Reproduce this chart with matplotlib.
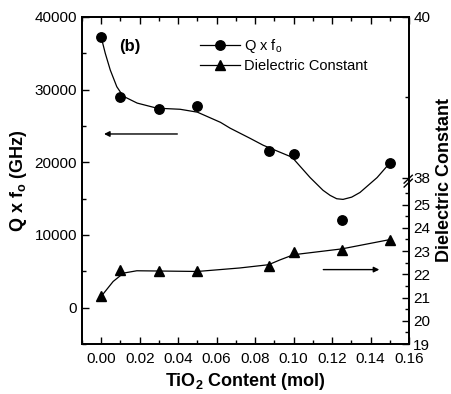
import numpy as np
import matplotlib
matplotlib.use("Agg")
import matplotlib.pyplot as plt
from matplotlib.ticker import MultipleLocator, FixedLocator
from matplotlib.lines import Line2D

plt.rcParams['font.family'] = ['Liberation Sans', 'DejaVu Sans']
plt.rcParams['mathtext.fontset'] = 'custom'
plt.rcParams['mathtext.rm'] = 'Liberation Sans'
plt.rcParams['mathtext.bf'] = 'Liberation Sans:bold'

# ---- data ----
tio2 = [0.00, 0.01, 0.03, 0.05, 0.087, 0.10, 0.125, 0.15]
qf = [37300, 29000, 27300, 27700, 21500, 21100, 12100, 19900]
eps = [21.05, 22.19, 22.12, 22.12, 22.37, 22.96, 23.06, 23.49]

# fitted guide curves
qf_fit_x = [0.000, 0.0021, 0.0047, 0.0081, 0.0114, 0.0187, 0.029, 0.041, 0.050,
            0.062, 0.067, 0.0774, 0.0842, 0.0992, 0.1086, 0.1153, 0.119, 0.1224,
            0.1257, 0.1302, 0.1345, 0.1434, 0.150]
qf_fit_y = [37200, 35000, 32700, 30400, 29100, 28150, 27450, 27300, 26900,
            25500, 24700, 23300, 22350, 20700, 17900, 16150, 15450, 14990,
            14900, 15210, 15850, 17900, 19900]
eps_fit_x = [0.000, 0.0062, 0.0116, 0.0185, 0.050, 0.072, 0.087, 0.093, 0.100, 0.125, 0.150]
eps_fit_y = [21.05, 21.69, 22.05, 22.15, 22.12, 22.27, 22.41, 22.62, 22.84, 23.09, 23.49]

x_ticks = [0.00, 0.02, 0.04, 0.06, 0.08, 0.10, 0.12, 0.14, 0.16]
left_ticks = [0, 10000, 20000, 30000, 40000]
right_ticks = [19, 20, 21, 22, 23, 24, 25, 38, 40]

fig = plt.figure(figsize=(4.52, 3.94), dpi=100)
ax = fig.add_axes([0.1814, 0.1269, 0.7235, 0.8300])

ax.plot(qf_fit_x, qf_fit_y, color='black', lw=0.9, zorder=2)
ax.plot(tio2, qf, 'o', color='black', ms=6.8, zorder=3, label=r'Q x f$_\mathrm{o}$')

ax.set_xlim(-0.01, 0.16)
ax.set_ylim(-5000, 40000)
ax.set_xticks(x_ticks)
ax.set_xticklabels([f"{v:.2f}" for v in x_ticks])
ax.xaxis.set_minor_locator(MultipleLocator(0.01))
ax.set_yticks(left_ticks)
ax.yaxis.set_minor_locator(MultipleLocator(5000))
ax.tick_params(axis='both', which='both', direction='in', top=True, labelsize=11)
ax.tick_params(which='major', length=5, width=1)
ax.tick_params(which='minor', length=3, width=1)
ax.tick_params(axis='x', pad=6)
for s in ax.spines.values():
    s.set_linewidth(1.3)

ax.set_xlabel(r'TiO$_\mathbf{2}$ Content (mol)', fontsize=13, fontweight='bold', labelpad=3)
ax.set_ylabel(r'Q x f$_\mathbf{o}$ (GHz)', fontsize=13, fontweight='bold', labelpad=4)

# right axis with a broken scale
lo_top, gap_to = 25.9, 26.16
slope_hi = 80 / 23.17
def fwd(v):
    return np.interp(v, [-1000, lo_top, 38, 1000],
                     [-1000, lo_top, gap_to, gap_to + (1000 - 38) * slope_hi])
def inv(u):
    return np.interp(u, [-1000, lo_top, gap_to, gap_to + (1000 - 38) * slope_hi],
                     [-1000, lo_top, 38, 1000])

ax2 = ax.twinx()
ax2.set_yscale('function', functions=(fwd, inv))
ax2.plot(eps_fit_x, eps_fit_y, color='black', lw=0.9, zorder=2)
ax2.plot(tio2, eps, '^', color='black', ms=7.5, zorder=3, label='Dielectric Constant')
ax2.set_ylim(19, 40)
ax2.yaxis.set_major_locator(FixedLocator(right_ticks))
ax2.set_yticklabels([str(v) for v in right_ticks])
ax2.yaxis.set_minor_locator(FixedLocator([19.5, 20.5, 21.5, 22.5, 23.5, 24.5, 25.5, 39]))
ax2.tick_params(axis='y', which='both', direction='in', labelsize=11, pad=3)
ax2.tick_params(which='major', length=5, width=1)
ax2.tick_params(which='minor', length=3, width=1)
ax2.set_ylabel('Dielectric Constant', fontsize=13, fontweight='bold', labelpad=4)
for s in ax2.spines.values():
    s.set_linewidth(1.3)

# break marks on right spine
yb = 0.498
for dy in (-0.006, 0.006):
    ax2.plot([0.985, 1.01], [yb + dy - 0.012, yb + dy + 0.012], transform=ax2.transAxes,
             color='black', lw=1.0, clip_on=False, zorder=5)

# legend
h1, l1 = ax.get_legend_handles_labels()
h2, l2 = ax2.get_legend_handles_labels()
hq = Line2D([], [], color='black', lw=0.9, marker='o', ms=6.8)
he = Line2D([], [], color='black', lw=0.9, marker='^', ms=7.5)
leg = ax.legend([hq, he], [l1[0], l2[0]], loc='upper left', bbox_to_anchor=(0.335, 0.965),
                frameon=False, fontsize=10.5, handlelength=2.7, handletextpad=0.3,
                labelspacing=0.25, borderaxespad=0.2)

ax.text(0.0095, 36000, '(b)', fontsize=12, fontweight='bold', va='center')

# arrows
ax.annotate('', xy=(0.0, 23900), xytext=(0.041, 23900),
            arrowprops=dict(arrowstyle='-|>', color='black', lw=1.0, mutation_scale=8))
ax2.annotate('', xy=(0.146, 22.2), xytext=(0.114, 22.2),
             arrowprops=dict(arrowstyle='-|>', color='black', lw=1.0, mutation_scale=8))

fig.savefig('out.png', dpi=100)
